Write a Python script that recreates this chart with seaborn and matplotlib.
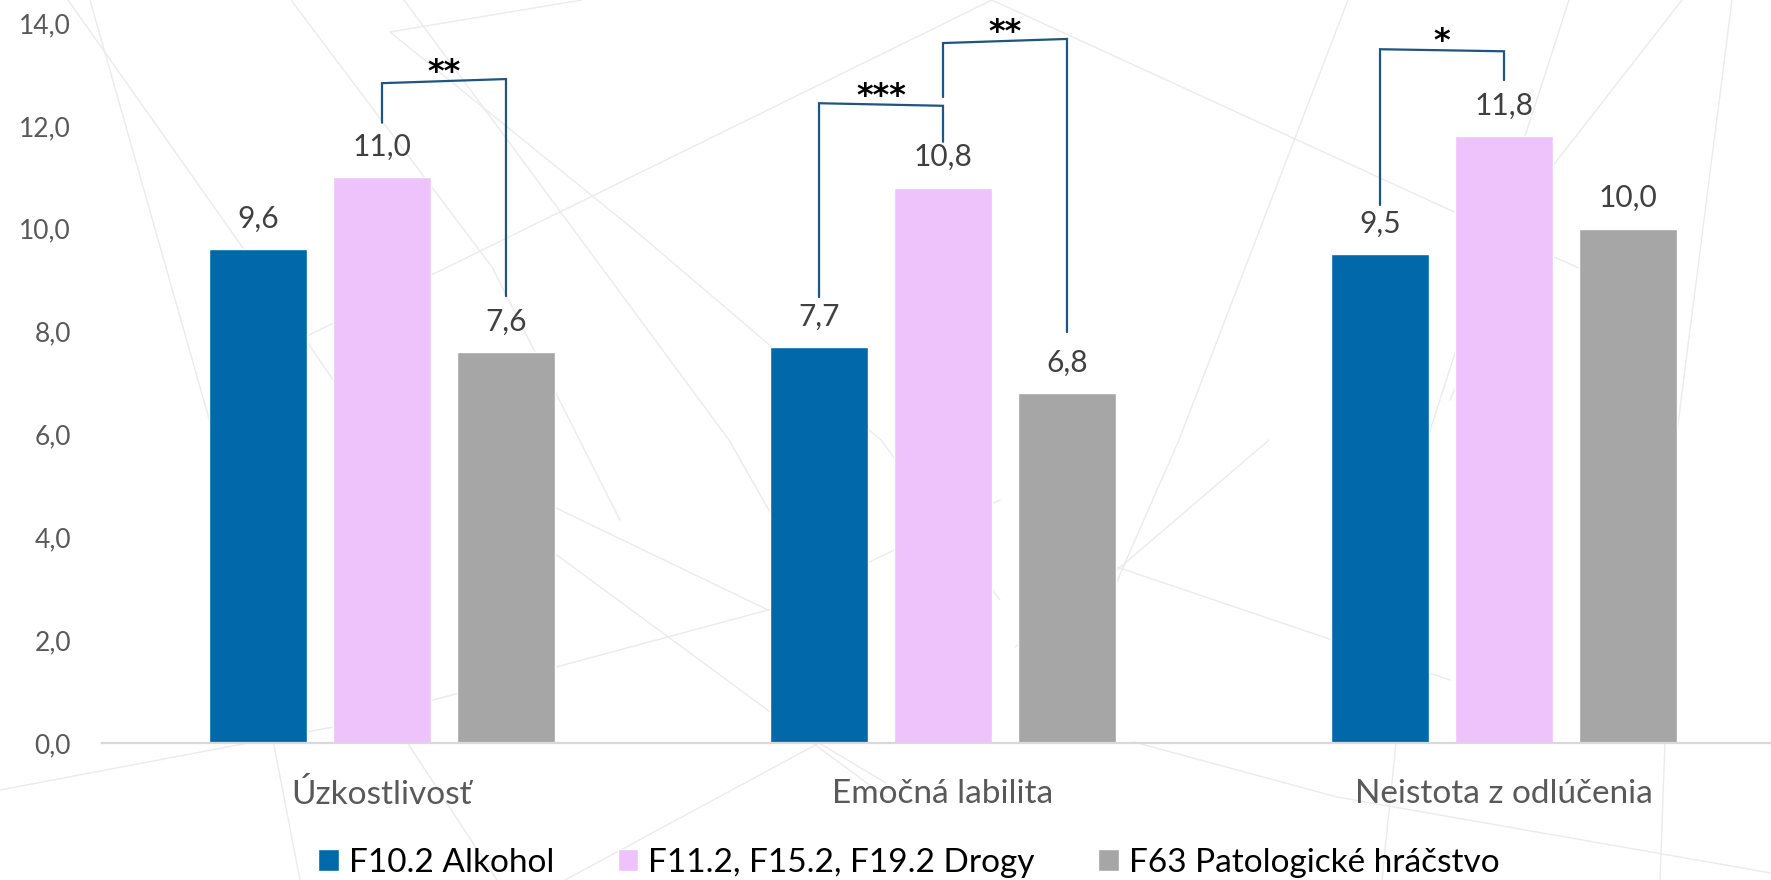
import numpy as np
import pandas as pd
import matplotlib
matplotlib.use("Agg")
import matplotlib.pyplot as plt
from matplotlib.lines import Line2D
import seaborn as sns

# ---------------- data ----------------
categories = ["Úzkostlivosť", "Emočná labilita", "Neistota z odlúčenia"]
groups = ["F10.2 Alkohol", "F11.2, F15.2, F19.2 Drogy", "F63 Patologické hráčstvo"]
alkohol = [9.6, 7.7, 9.5]
drogy = [11.0, 10.8, 11.8]
hracstvo = [7.6, 6.8, 10.0]
y_ticks = [0, 2, 4, 6, 8, 10, 12, 14]
colors = ["#0169AA", "#EEC3FC", "#A6A6A6"]

# significance brackets
sig_cat = [0, 1, 1, 2]
sig_from = [1, 0, 1, 0]
sig_to = [2, 1, 2, 1]
sig_left_bottom = [12.06, 8.67, 12.56, 10.46]
sig_left_top = [12.83, 12.44, 13.61, 13.49]
sig_right_top = [12.91, 12.39, 13.69, 13.45]
sig_right_bottom = [8.69, 11.69, 7.99, 12.89]
sig_labels = ["**", "***", "**", "*"]

# ---------------- style ----------------
sns.set_theme(style="white")
plt.rcParams["font.family"] = ["Lato", "DejaVu Sans"]

W, H = 1771, 880
fig = plt.figure(figsize=(W / 100, H / 100), dpi=100)
fig.patch.set_facecolor("white")

# faint decorative background lines (figure pixel coords, y downwards)
deco = [
    [(68, 0), (243, 248), (340, 390), (420, 480)],
    [(90, 0), (215, 440), (300, 880)],
    [(291, 0), (492, 267), (620, 520)],
    [(404, 0), (729, 440), (820, 600)],
    [(582, 0), (390, 32), (638, 233), (881, 440), (1000, 600)],
    [(305, 337), (992, 0)],
    [(992, 0), (1450, 210), (1650, 300)],
    [(0, 790), (333, 727), (768, 610), (1000, 500)],
    [(554, 507), (768, 610)],
    [(554, 553), (886, 797)],
    [(565, 880), (819, 743), (886, 783)],
    [(1134, 742), (1337, 797), (1771, 873)],
    [(1348, 0), (1179, 440), (1100, 620)],
    [(1569, 0), (1427, 440), (1382, 880)],
    [(1682, 0), (1552, 167), (1450, 400)],
    [(1732, 0), (1676, 440), (1660, 880)],
    [(407, 742), (497, 880)],
    [(1269, 440), (1117, 570), (1015, 647)],
    [(1117, 567), (1450, 680)],
]
for seg in deco:
    xs = [p[0] / W for p in seg]
    ys = [1 - p[1] / H for p in seg]
    fig.add_artist(Line2D(xs, ys, transform=fig.transFigure, color="#EBEBEB",
                          lw=1.0, zorder=0))

left_px, right_px = 101.5, 1784.5
bottom_px, top_px = 743, 23
ax = fig.add_axes([left_px / W, 1 - bottom_px / H,
                   (right_px - left_px) / W, (bottom_px - top_px) / H])
ax.set_facecolor("none")
ax.set_zorder(2)

df = pd.DataFrame({
    "category": categories * 3,
    "group": [groups[0]] * 3 + [groups[1]] * 3 + [groups[2]] * 3,
    "value": alkohol + drogy + hracstvo,
})

sns.barplot(data=df, x="category", y="value", hue="group",
            order=categories, hue_order=groups, palette=colors,
            width=0.663, gap=0.217, errorbar=None, saturation=1,
            ax=ax, legend=True)

handles, labels = ax.get_legend_handles_labels()
ax.get_legend().remove()

ax.set_xlim(-0.5, 2.5)
ax.set_ylim(0, 14)
ax.set_yticks(y_ticks)
ax.set_yticklabels([f"{v:.1f}".replace(".", ",") for v in y_ticks])
ax.set_xlabel("")
ax.set_ylabel("")
for s in ["top", "right", "left"]:
    ax.spines[s].set_visible(False)
ax.spines["bottom"].set_color("#D9D9D9")
ax.spines["bottom"].set_linewidth(1.6)
ax.tick_params(axis="y", length=0, pad=22, labelsize=19, labelcolor="#595959")
ax.tick_params(axis="x", length=0, pad=26, labelsize=24, labelcolor="#595959")
ax.grid(False)

# data labels
for cont in ax.containers:
    vals = [p.get_height() for p in cont]
    ax.bar_label(cont, labels=[f"{v:.1f}".replace(".", ",") for v in vals],
                 padding=12, fontsize=21.5, color="#404040")

# bar centres from the drawn bars
centers = [[p.get_x() + p.get_width() / 2 for p in cont] for cont in ax.containers]

bracket_color = "#1F5582"
for k in range(len(sig_labels)):
    c = sig_cat[k]
    x1 = centers[sig_from[k]][c]
    x2 = centers[sig_to[k]][c]
    ax.plot([x1, x1, x2, x2],
            [sig_left_bottom[k], sig_left_top[k], sig_right_top[k], sig_right_bottom[k]],
            color=bracket_color, lw=1.6, clip_on=False, zorder=5,
            solid_joinstyle="miter")
    ax.annotate(sig_labels[k], xy=((x1 + x2) / 2, (sig_left_top[k] + sig_right_top[k]) / 2),
                xytext=(0, 0), textcoords="offset points", ha="center", va="baseline",
                fontsize=23, fontweight="bold", color="black", annotation_clip=False,
                family=["DejaVu Sans"])

fig.legend(handles, labels, loc="center", bbox_to_anchor=(909 / W, 1 - 863 / H),
           ncol=3, frameon=False, fontsize=24, handlelength=0.62, handleheight=0.62,
           handletextpad=0.3, columnspacing=1.9, borderpad=0, borderaxespad=0,
           labelcolor="black")

fig.savefig("out.png", dpi=100, facecolor="white")
